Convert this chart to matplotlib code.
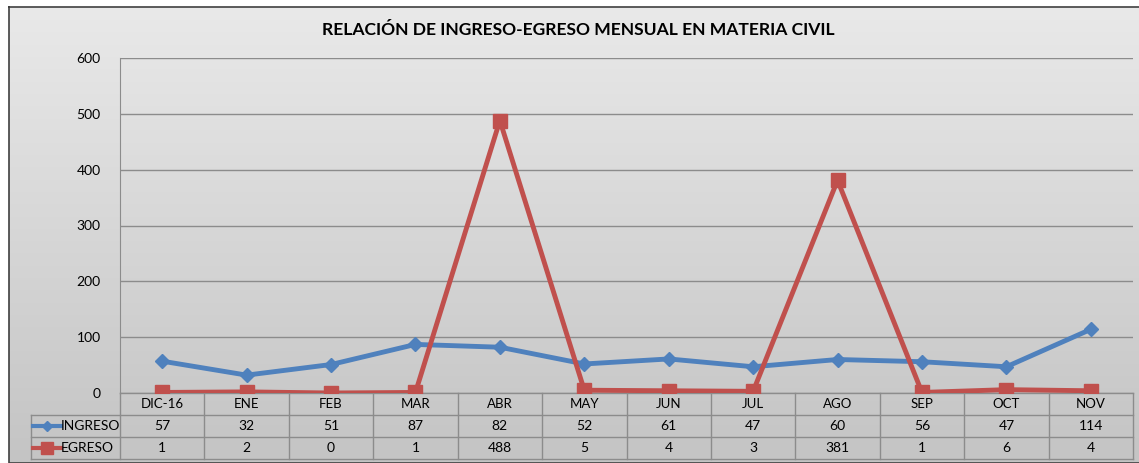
import numpy as np
import matplotlib
matplotlib.use("Agg")
from matplotlib import pyplot as plt
from matplotlib.lines import Line2D

plt.rcParams['font.family'] = ['Lato', 'DejaVu Sans']

# datos
meses = ['DIC-16', 'ENE', 'FEB', 'MAR', 'ABR', 'MAY', 'JUN', 'JUL', 'AGO', 'SEP', 'OCT', 'NOV']
ingreso = [57, 32, 51, 87, 82, 52, 61, 47, 60, 56, 47, 114]
egreso = [1, 2, 0, 1, 488, 5, 4, 3, 381, 1, 6, 4]
yticks = [0, 100, 200, 300, 400, 500, 600]

azul = '#4f81bd'
rojo = '#c0504d'
gris = '#8c8c8c'

W, H = 1139, 463
fig = plt.figure(figsize=(W / 100, H / 100), dpi=100)
fig.patch.set_facecolor('white')

# fondo con degradado
bg = fig.add_axes([0, 0, 1, 1])
bg.set_xlim(0, W)
bg.set_ylim(H, 0)
bg.axis('off')
grad = np.linspace(0, 1, 256).reshape(-1, 1)
bg.imshow(grad, cmap=matplotlib.colors.LinearSegmentedColormap.from_list('g', ['#e9e9e9', '#c4c4c4']),
          extent=[9, W + 5, H, 7], aspect='auto', zorder=0)
bg.plot([9, W + 5, W + 5, 9, 9], [7, 7, H, H, 7], color='#404040', lw=1.2, zorder=1)

bg.text(578, 30, 'RELACIÓN DE INGRESO-EGRESO MENSUAL EN MATERIA CIVIL',
        ha='center', va='center', fontsize=12.6, fontweight='bold', color='black')

# area de trazado
left, right, top, bottom = 120, 1133, 58, 393
ax = fig.add_axes([left / W, 1 - bottom / H, (right - left) / W, (bottom - top) / H])
ax.patch.set_alpha(0)
x = np.arange(len(meses))
ax.set_xlim(-0.5, len(meses) - 0.5)
ax.set_ylim(0, 600)
ax.set_yticks(yticks)
ax.tick_params(axis='y', length=0, pad=14, labelsize=10)
ax.set_xticks([])
for s in ['top', 'right', 'bottom']:
    ax.spines[s].set_visible(False)
ax.spines['left'].set_color(gris)
ax.grid(axis='y', color=gris, lw=1)
ax.set_axisbelow(True)

ax.plot(x, ingreso, color=azul, lw=3.5, marker='D', ms=7, zorder=3)
ax.plot(x, egreso, color=rojo, lw=3.5, marker='s', ms=10, zorder=4)

# tabla de datos
tr = ax.get_xaxis_transform()
rh = 22 / (bottom - top)
ytab = [0, -rh, -2 * rh, -3 * rh]
x0 = -0.5 - (left - 31) / ((right - left) / len(meses))
kw = dict(transform=tr, clip_on=False, color=gris, lw=1)
# lineas horizontales
ax.plot([-0.5, 11.5], [ytab[0], ytab[0]], **kw)
for yy in ytab[1:]:
    ax.plot([x0, 11.5], [yy, yy], **kw)
# lineas verticales
for i in range(len(meses) + 1):
    ax.plot([i - 0.5, i - 0.5], [ytab[0], ytab[3]], **kw)
ax.plot([x0, x0], [ytab[1], ytab[3]], **kw)

for i, m in enumerate(meses):
    ax.text(i, -rh / 2, m, transform=tr, ha='center', va='center', fontsize=9.5)
    ax.text(i, -1.5 * rh, str(ingreso[i]), transform=tr, ha='center', va='center', fontsize=10)
    ax.text(i, -2.5 * rh, str(egreso[i]), transform=tr, ha='center', va='center', fontsize=10)

# leyenda en la tabla
px = (right - left) / len(meses)
def key(row, color, marker, ms, label):
    yy = -(row + 0.5) * rh
    xa = x0 + 2 / px
    xb = x0 + 30 / px
    ax.add_line(Line2D([xa, xb], [yy, yy], color=color, lw=3, transform=tr, clip_on=False))
    ax.add_line(Line2D([(xa + xb) / 2], [yy], color=color, marker=marker, ms=ms, transform=tr, clip_on=False))
    ax.text(xb, yy, label, transform=tr, ha='left', va='center', fontsize=10)

key(1, azul, 'D', 5.5, 'INGRESO')
key(2, rojo, 's', 8, 'EGRESO')

fig.savefig('out.png', dpi=100)
